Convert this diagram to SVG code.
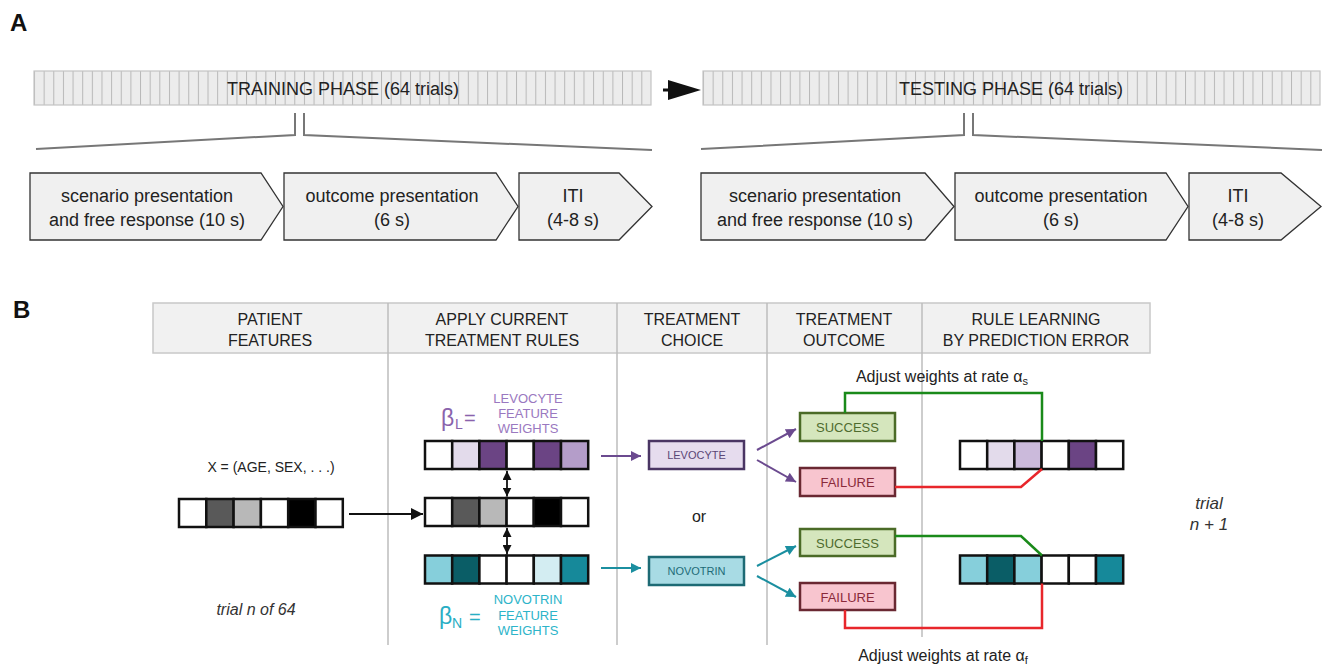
<svg xmlns="http://www.w3.org/2000/svg" width="1324" height="666" viewBox="0 0 1324 666">
<style>
text{font-family:"Liberation Sans",Arial,sans-serif;fill:#222}
.lbl{font-size:24px;font-weight:bold;fill:#111}
.bartxt{font-size:18px;text-anchor:middle}
.step{fill:#f0f0f0;stroke:#333;stroke-width:1.3}
.steptxt{font-size:18px;text-anchor:middle}
.fold{fill:none;stroke:#777;stroke-width:2}
.hdr{fill:#f1f1f1;stroke:#c8c8c8;stroke-width:1.5}
.hdrtxt{font-size:16px;text-anchor:middle}
.div{stroke:#bdbdbd;stroke-width:1.5}
.cell{stroke:#111;stroke-width:2.5}
.small{font-size:13px;text-anchor:middle}
.it{font-style:italic;text-anchor:middle;fill:#333}
.box{stroke-width:2.5}
.suc{fill:#d5e6bd;stroke:#4b6b27}
.fail{fill:#f8c5cf;stroke:#6a2832}
.suctxt{font-size:13px;text-anchor:middle;fill:#4e6b2e}
.failtxt{font-size:13px;text-anchor:middle;fill:#8a2a3a}
.green{fill:none;stroke:#1a8a1a;stroke-width:2.5}
.red{fill:none;stroke:#e8262b;stroke-width:2.5}
.parr{stroke:#6b4a8f;stroke-width:2;fill:none}
.tarr{stroke:#1b8fa0;stroke-width:2;fill:none}
</style>
<defs>
<pattern id="stripesA" patternUnits="userSpaceOnUse" x="34" y="0" width="9.64" height="10">
<rect width="9.64" height="10" fill="#ececec"/>
<line x1="0.5" y1="0" x2="0.5" y2="10" stroke="#b8b8b8" stroke-width="1"/>
</pattern>
<pattern id="stripesB" patternUnits="userSpaceOnUse" x="703" y="0" width="9.64" height="10">
<rect width="9.64" height="10" fill="#ececec"/>
<line x1="0.5" y1="0" x2="0.5" y2="10" stroke="#b8b8b8" stroke-width="1"/>
</pattern>
<marker id="mBlack" viewBox="0 0 10 10" refX="10" refY="5" markerWidth="16" markerHeight="12" markerUnits="userSpaceOnUse" orient="auto-start-reverse"><path d="M0,0 L10,5 L0,10 Z" fill="#111"/></marker>
<marker id="mSmall" viewBox="0 0 10 10" refX="10" refY="5" markerWidth="9" markerHeight="9" markerUnits="userSpaceOnUse" orient="auto-start-reverse"><path d="M0,0 L10,5 L0,10 Z" fill="#111"/></marker>
<marker id="mPurple" viewBox="0 0 10 10" refX="10" refY="5" markerWidth="14" markerHeight="10" markerUnits="userSpaceOnUse" orient="auto"><path d="M0,0 L10,5 L0,10 Z" fill="#6b4a8f"/></marker>
<marker id="mTeal" viewBox="0 0 10 10" refX="10" refY="5" markerWidth="14" markerHeight="10" markerUnits="userSpaceOnUse" orient="auto"><path d="M0,0 L10,5 L0,10 Z" fill="#1b8fa0"/></marker>
</defs>

<!-- Panel A -->
<text class="lbl" x="10" y="31">A</text>
<g id="training-phase">
<rect x="34" y="71" width="617" height="34" fill="url(#stripesA)" stroke="#c4c4c4" stroke-width="1.2"/>
<text class="bartxt" x="343" y="95">TRAINING PHASE (64 trials)</text>
</g>
<g id="testing-phase">
<rect x="703" y="71" width="617" height="34" fill="url(#stripesB)" stroke="#c4c4c4" stroke-width="1.2"/>
<text class="bartxt" x="1011" y="95">TESTING PHASE (64 trials)</text>
</g>
<g id="phase-arrow">
<rect x="663" y="88.5" width="9" height="3" fill="#111"/>
<path d="M668,80 L701,90 L668,100 Z" fill="#111"/>
</g>
<g id="folds">
<path class="fold" d="M295,113 V135 L36,149"/>
<path class="fold" d="M304,113 V135 L652,150"/>
<path class="fold" d="M964,113 V135 L701,149"/>
<path class="fold" d="M973,113 V135 L1322,150"/>
</g>
<g id="train-step1"><path class="step" d="M30,173 H261 L283,206.5 L261,240 H30 Z"/>
<text class="steptxt" x="147" y="201.5">scenario presentation</text><text class="steptxt" x="147" y="225.5">and free response (10 s)</text></g>
<g id="train-step2"><path class="step" d="M284,173 H496 L518,206.5 L496,240 H284 Z"/>
<text class="steptxt" x="392" y="201.5">outcome presentation</text><text class="steptxt" x="392" y="225.5">(6 s)</text></g>
<g id="train-step3"><path class="step" d="M519,173 H619 L652,206.5 L619,240 H519 Z"/>
<text class="steptxt" x="573" y="201.5">ITI</text><text class="steptxt" x="573" y="225.5">(4-8 s)</text></g>
<g id="test-step1"><path class="step" d="M701,173 H925 L954,206.5 L925,240 H701 Z"/>
<text class="steptxt" x="815" y="201.5">scenario presentation</text><text class="steptxt" x="815" y="225.5">and free response (10 s)</text></g>
<g id="test-step2"><path class="step" d="M955,173 H1166 L1188,206.5 L1166,240 H955 Z"/>
<text class="steptxt" x="1061" y="201.5">outcome presentation</text><text class="steptxt" x="1061" y="225.5">(6 s)</text></g>
<g id="test-step3"><path class="step" d="M1189,173 H1281 L1321,206.5 L1281,240 H1189 Z"/>
<text class="steptxt" x="1238" y="201.5">ITI</text><text class="steptxt" x="1238" y="225.5">(4-8 s)</text></g>

<!-- Panel B -->
<text class="lbl" x="13" y="318">B</text>
<g id="header">
<rect class="hdr" x="153" y="303" width="997" height="50"/>
<line class="div" x1="388" y1="303" x2="388" y2="645"/>
<line class="div" x1="617" y1="303" x2="617" y2="645"/>
<line class="div" x1="767" y1="303" x2="767" y2="645"/>
<line class="div" x1="922" y1="303" x2="922" y2="637"/>
<text class="hdrtxt" x="270" y="325">PATIENT</text><text class="hdrtxt" x="270" y="346">FEATURES</text>
<text class="hdrtxt" x="502" y="325">APPLY CURRENT</text><text class="hdrtxt" x="502" y="346">TREATMENT RULES</text>
<text class="hdrtxt" x="692" y="325">TREATMENT</text><text class="hdrtxt" x="692" y="346">CHOICE</text>
<text class="hdrtxt" x="844" y="325">TREATMENT</text><text class="hdrtxt" x="844" y="346">OUTCOME</text>
<text class="hdrtxt" x="1036" y="325">RULE LEARNING</text><text class="hdrtxt" x="1036" y="346">BY PREDICTION ERROR</text>
</g>

<g id="patient-vector">
<text x="271" y="472" style="font-size:14px;text-anchor:middle">X = (AGE, SEX, . . .)</text>
<rect class="cell" x="179" y="499" width="27.3" height="28" fill="#fff"/>
<rect class="cell" x="206.3" y="499" width="27.3" height="28" fill="#595959"/>
<rect class="cell" x="233.6" y="499" width="27.3" height="28" fill="#b8b8b8"/>
<rect class="cell" x="260.9" y="499" width="27.3" height="28" fill="#fff"/>
<rect class="cell" x="288.2" y="499" width="27.3" height="28" fill="#000"/>
<rect class="cell" x="315.5" y="499" width="27.3" height="28" fill="#fff"/>
<text class="it" x="256" y="615" style="font-size:16px">trial n of 64</text>
</g>

<g id="levocyte-weights">
<text x="441" y="426" style="font-size:23px;fill:#8a63ac">β</text>
<text x="455" y="429" style="font-size:14px;fill:#8a63ac">L</text>
<text x="464" y="425" style="font-size:20px;fill:#8a63ac">=</text>
<text class="small" x="528" y="403" style="fill:#9a78c0">LEVOCYTE</text>
<text class="small" x="528" y="418" style="fill:#9a78c0">FEATURE</text>
<text class="small" x="528" y="433" style="fill:#9a78c0">WEIGHTS</text>
<rect class="cell" x="425" y="441" width="27.2" height="28" fill="#fff"/>
<rect class="cell" x="452.2" y="441" width="27.2" height="28" fill="#e3dbeb"/>
<rect class="cell" x="479.4" y="441" width="27.2" height="28" fill="#6b4484"/>
<rect class="cell" x="506.6" y="441" width="27.2" height="28" fill="#fff"/>
<rect class="cell" x="533.8" y="441" width="27.2" height="28" fill="#6b4484"/>
<rect class="cell" x="561" y="441" width="27.2" height="28" fill="#b49dc9"/>
</g>

<g id="current-features">
<rect class="cell" x="425" y="498" width="27.2" height="28" fill="#fff"/>
<rect class="cell" x="452.2" y="498" width="27.2" height="28" fill="#595959"/>
<rect class="cell" x="479.4" y="498" width="27.2" height="28" fill="#b8b8b8"/>
<rect class="cell" x="506.6" y="498" width="27.2" height="28" fill="#fff"/>
<rect class="cell" x="533.8" y="498" width="27.2" height="28" fill="#000"/>
<rect class="cell" x="561" y="498" width="27.2" height="28" fill="#fff"/>
</g>

<g id="novotrin-weights">
<rect class="cell" x="425" y="555.5" width="27.2" height="28" fill="#86cfdb"/>
<rect class="cell" x="452.2" y="555.5" width="27.2" height="28" fill="#0a5d66"/>
<rect class="cell" x="479.4" y="555.5" width="27.2" height="28" fill="#fff"/>
<rect class="cell" x="506.6" y="555.5" width="27.2" height="28" fill="#fff"/>
<rect class="cell" x="533.8" y="555.5" width="27.2" height="28" fill="#d3edf2"/>
<rect class="cell" x="561" y="555.5" width="27.2" height="28" fill="#16899a"/>
<text x="439" y="624" style="font-size:23px;fill:#2aaec4">β</text>
<text x="452" y="628" style="font-size:14px;fill:#2aaec4">N</text>
<text x="469" y="624" style="font-size:20px;fill:#2aaec4">=</text>
<text class="small" x="528" y="604" style="fill:#2db4c9">NOVOTRIN</text>
<text class="small" x="528" y="620" style="fill:#2db4c9">FEATURE</text>
<text class="small" x="528" y="635" style="fill:#2db4c9">WEIGHTS</text>
</g>

<g id="choice-levocyte">
<rect class="box" x="649" y="441" width="95" height="28" fill="#e6dcee" stroke="#4a3563"/>
<text x="696.5" y="459" style="font-size:11px;text-anchor:middle;fill:#5b4676">LEVOCYTE</text>
</g>
<text x="699" y="522" style="font-size:16px;text-anchor:middle">or</text>
<g id="choice-novotrin">
<rect class="box" x="649" y="557" width="95" height="28" fill="#a8dbe4" stroke="#1d6a74"/>
<text x="696.5" y="575" style="font-size:11px;text-anchor:middle;fill:#1e6c78">NOVOTRIN</text>
</g>

<g id="success-1"><rect class="box suc" x="800" y="413" width="95" height="28"/><text class="suctxt" x="847.5" y="432">SUCCESS</text></g>
<g id="failure-1"><rect class="box fail" x="800" y="468" width="95" height="28"/><text class="failtxt" x="847.5" y="487">FAILURE</text></g>
<g id="success-2"><rect class="box suc" x="800" y="529" width="95" height="27"/><text class="suctxt" x="847.5" y="547.5">SUCCESS</text></g>
<g id="failure-2"><rect class="box fail" x="800" y="583" width="95" height="27"/><text class="failtxt" x="847.5" y="601.5">FAILURE</text></g>

<g id="updated-levocyte">
<rect class="cell" x="960" y="441" width="27.2" height="28" fill="#fff"/>
<rect class="cell" x="987.2" y="441" width="27.2" height="28" fill="#e3dbeb"/>
<rect class="cell" x="1014.4" y="441" width="27.2" height="28" fill="#cbbadb"/>
<rect class="cell" x="1041.6" y="441" width="27.2" height="28" fill="#fff"/>
<rect class="cell" x="1068.8" y="441" width="27.2" height="28" fill="#6b4484"/>
<rect class="cell" x="1096" y="441" width="27.2" height="28" fill="#fff"/>
</g>
<g id="updated-novotrin">
<rect class="cell" x="960" y="555.5" width="27.2" height="28" fill="#86cfdb"/>
<rect class="cell" x="987.2" y="555.5" width="27.2" height="28" fill="#0a5d66"/>
<rect class="cell" x="1014.4" y="555.5" width="27.2" height="28" fill="#86cfdb"/>
<rect class="cell" x="1041.6" y="555.5" width="27.2" height="28" fill="#fff"/>
<rect class="cell" x="1068.8" y="555.5" width="27.2" height="28" fill="#fff"/>
<rect class="cell" x="1096" y="555.5" width="27.2" height="28" fill="#16899a"/>
</g>

<text x="942" y="382" style="font-size:16px;text-anchor:middle">Adjust weights at rate α<tspan style="font-size:11px" dy="3">s</tspan></text>
<text x="943" y="661" style="font-size:16px;text-anchor:middle">Adjust weights at rate α<tspan style="font-size:11px" dy="3">f</tspan></text>
<text class="it" x="1209" y="509" style="font-size:17px">trial</text>
<text class="it" x="1209" y="530" style="font-size:17px">n + 1</text>

<g id="connectors">
<line x1="349" y1="514" x2="423" y2="514" stroke="#111" stroke-width="2" marker-end="url(#mBlack)"/>
<line x1="507" y1="471" x2="507" y2="496.5" stroke="#111" stroke-width="1.8" marker-start="url(#mSmall)" marker-end="url(#mSmall)"/>
<line x1="507" y1="528" x2="507" y2="554" stroke="#111" stroke-width="1.8" marker-start="url(#mSmall)" marker-end="url(#mSmall)"/>
<line class="parr" x1="601" y1="456" x2="641" y2="456" marker-end="url(#mPurple)"/>
<line class="tarr" x1="601" y1="568" x2="641" y2="568" marker-end="url(#mTeal)"/>
<line class="parr" x1="757" y1="450" x2="796" y2="429" marker-end="url(#mPurple)"/>
<line class="parr" x1="757" y1="460" x2="796" y2="482" marker-end="url(#mPurple)"/>
<line class="tarr" x1="757" y1="566" x2="796" y2="546" marker-end="url(#mTeal)"/>
<line class="tarr" x1="757" y1="576" x2="796" y2="597" marker-end="url(#mTeal)"/>
<path class="green" d="M845,413 V393 H1042 V441"/>
<path class="red" d="M895,487 H1021 L1042,469"/>
<path class="green" d="M895,536 H1021 L1042,555.5"/>
<path class="red" d="M845,610 V628 H1042 V583.5"/>
</g>
</svg>
